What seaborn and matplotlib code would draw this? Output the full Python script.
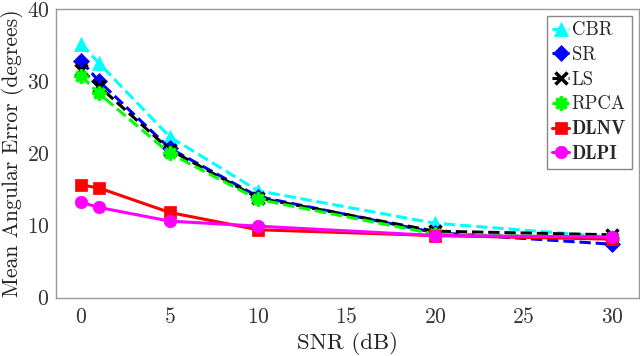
import matplotlib
matplotlib.use("Agg")
import matplotlib.pyplot as plt
import seaborn as sns
import pandas as pd

# =====================================================
# Données
# =====================================================

snr = [0, 1, 5, 10, 20, 30]

cbr = [35.2, 32.5, 22.3, 14.8, 10.3, 8.4]
sr = [32.8, 30.0, 20.7, 14.0, 9.0, 7.4]
ls = [31.6, 29.3, 20.5, 13.8, 9.2, 8.7]
rpca = [30.7, 28.3, 20.0, 13.6, 8.8, 8.3]
dlnv = [15.6, 15.2, 11.8, 9.4, 8.6, 8.1]
dlpi = [13.2, 12.5, 10.6, 9.9, 8.6, 8.4]

labels = ["CBR", "SR", "LS", "RPCA", "DLNV", "DLPI"]

# =====================================================
# Style
# =====================================================

sns.set_theme(style="white")
plt.rcParams["font.family"] = ["cmr10", "DejaVu Serif"]
plt.rcParams["mathtext.fontset"] = "cm"
plt.rcParams["axes.unicode_minus"] = False
plt.rcParams["axes.formatter.use_mathtext"] = True

series = [cbr, sr, ls, rpca, dlnv, dlpi]
colors = ["#00FFFF", "#0000FF", "#000000", "#00FF00", "#FF0000", "#FF00FF"]
markers = ["^", "D", "x", (8, 2, 0), "s", "o"]
msizes = [10, 8, 8, 10, 8, 9]
dashes = ["--", "--", "--", "--", "-", "-"]

fig = plt.figure(figsize=(6.4, 3.56), dpi=100)
ax = fig.add_axes([0.088, 0.164, 0.910, 0.811])

for lab, vals, c, m, ms, ls_ in zip(labels, series, colors, markers, msizes, dashes):
    df = pd.DataFrame({"snr": snr, "val": vals})
    sns.lineplot(
        data=df,
        x="snr",
        y="val",
        ax=ax,
        color=c,
        marker=m,
        markersize=ms,
        markeredgewidth=2.5 if m in ("x", (8, 2, 0)) else 0.5,
        markeredgecolor=c,
        linestyle=ls_,
        linewidth=2.2,
        label=lab,
    )

ax.set_xlim(-1.4, 31.5)
ax.set_ylim(0, 40)
ax.set_xticks([0, 5, 10, 15, 20, 25, 30])
ax.set_yticks([0, 10, 20, 30, 40])
ax.tick_params(labelsize=15.5, length=0, colors="#333333")
ax.tick_params(axis="x", pad=7)
ax.tick_params(axis="y", pad=5)

for sp in ax.spines.values():
    sp.set_color("#999999")
    sp.set_linewidth(1.0)

ax.set_xlabel("SNR (dB)", fontsize=16.5, color="#222222", labelpad=3)
ax.set_ylabel("Mean Angular Error (degrees)", fontsize=15.6, color="#222222", labelpad=2)

leg = ax.legend(
    loc="upper right",
    fontsize=13.5,
    handlelength=0.9,
    handletextpad=0.15,
    borderpad=0.3,
    labelspacing=0.36,
    borderaxespad=0,
    fancybox=False,
    framealpha=1,
    edgecolor="#888888",
    bbox_to_anchor=(0.988, 0.976),
)
for t in leg.get_texts():
    if t.get_text() in ("DLNV", "DLPI"):
        t.set_fontfamily(["cmb10", "DejaVu Serif"])

fig.savefig("out.png", dpi=100)
